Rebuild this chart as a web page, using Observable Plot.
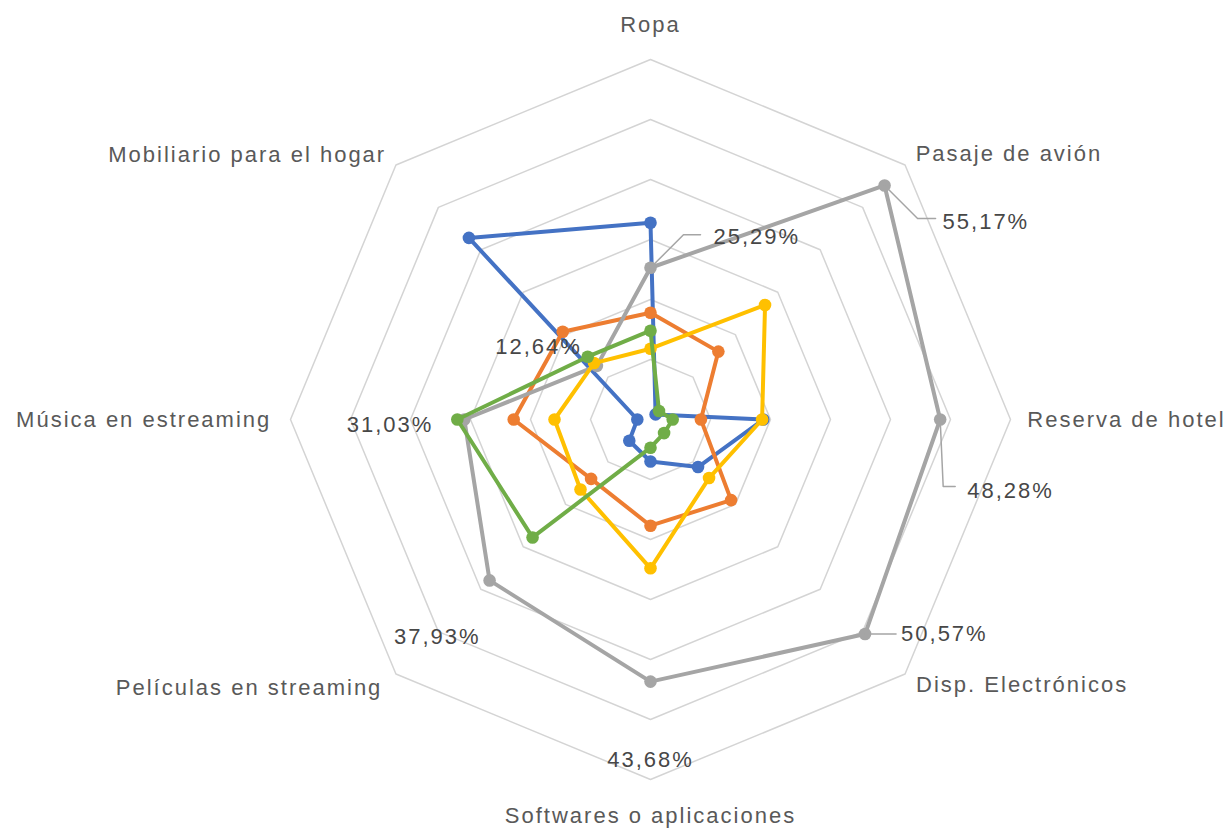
<!DOCTYPE html>
<html><head><meta charset="utf-8">
<script src="https://cdn.jsdelivr.net/npm/d3@7"></script>
<script src="https://cdn.jsdelivr.net/npm/@observablehq/plot@0.6"></script>
<style>
body{margin:0;background:#fff;overflow:hidden}
svg{display:block}
svg text{letter-spacing:2px}
</style>
</head><body><div id="chart"></div>
<script>
// ---- data ----
const categories = ["Ropa", "Pasaje de avión", "Reserva de hotel", "Disp. Electrónicos",
  "Softwares o aplicaciones", "Películas en streaming", "Música en estreaming", "Mobiliario para el hogar"];
const seriesNames = ["Serie 1", "Serie 2", "Serie 3", "Serie 4", "Serie 5"];
const serie1 = [32.8, 1.2, 18.8, 11.2, 7.0, 5.0, 2.2, 42.8];      // azul
const serie2 = [17.8, 16.0, 8.4, 19.0, 17.7, 14.0, 22.8, 20.7];   // naranja
const serie3 = [25.29, 55.17, 48.28, 50.57, 43.68, 37.93, 31.03, 12.64]; // gris
const serie4 = [11.8, 27.0, 18.6, 13.8, 24.8, 16.5, 16.0, 13.3];  // amarillo
const serie5 = [14.8, 2.0, 3.7, 3.2, 4.7, 27.8, 32.2, 14.8];      // verde
const gridValues = [10, 20, 30, 40, 50, 60];
const labeledSeries = 2; // serie3 carries the data labels

// ---- styles / layout ----
const seriesColors = ["#4472C4", "#ED7D31", "#A5A5A5", "#FFC000", "#70AD47"];
const W = 1230, H = 835, cx = 650, cy = 419, k = 6; // px per unit
const catLabelR = [65.8, 62.5, 62.8, 62.6, 66.0, 63.2, 63.2, 62.3];
const catAnchor = ["middle", "start", "start", "start", "middle", "end", "end", "end"];
// data label offsets (px) from point: text anchor pos, leader polyline
const dlLayout = [
  {dx: 63, dy: -31, anchor: "start", leader: [[0, 0], [33, -33], [50, -33]]},
  {dx: 58, dy: 37, anchor: "start", leader: [[0, 0], [33, 33], [51, 33]]},
  {dx: 27, dy: 71, anchor: "start", leader: [[0, 0], [3, 67], [15, 67]]},
  {dx: 36, dy: 0, anchor: "start", leader: [[0, 0], [31, 0]]},
  {dx: 0, dy: 78, anchor: "middle", leader: null},
  {dx: -9, dy: 57, anchor: "end", leader: null},
  {dx: -31, dy: 5, anchor: "end", leader: null},
  {dx: -15, dy: -19, anchor: "end", leader: null}
];

const allSeries = [serie1, serie2, serie3, serie4, serie5];
const n = categories.length;
const ang = i => i * 2 * Math.PI / n;
const px = (r, i) => r * Math.sin(ang(i));
const py = (r, i) => r * Math.cos(ang(i));

const gridData = gridValues.flatMap(v => categories.map((c, i) => ({ring: v, x: px(v, i), y: py(v, i)})));
const catData = categories.map((c, i) => ({text: c, x: px(catLabelR[i], i), y: py(catLabelR[i], i), anchor: catAnchor[i]}));

const fmt = v => v.toFixed(2).replace(".", ",") + "%";
const lab = allSeries[labeledSeries];
const dlData = lab.map((v, i) => ({
  text: fmt(v), x: px(v, i) + dlLayout[i].dx / k, y: py(v, i) - dlLayout[i].dy / k, anchor: dlLayout[i].anchor
}));
const leaderData = lab.flatMap((v, i) => dlLayout[i].leader ? dlLayout[i].leader.map(([ox, oy]) => ({
  id: i, x: px(v, i) + ox / k, y: py(v, i) - oy / k
})) : []);

const seriesMarks = allSeries.flatMap((s, si) => {
  const pts = s.map((v, i) => ({serie: seriesNames[si], cat: categories[i], x: px(v, i), y: py(v, i)}));
  return [
    Plot.line(pts, {x: "x", y: "y", curve: "linear-closed", stroke: seriesColors[si], strokeWidth: 4, strokeLinejoin: "round"}),
    Plot.dot(pts, {x: "x", y: "y", r: 6.3, fill: seriesColors[si], stroke: "none"})
  ];
});

const textMarks = (data, opts) => ["start", "middle", "end"].map(a =>
  Plot.text(data.filter(d => d.anchor === a), {x: "x", y: "y", text: "text", textAnchor: a, ...opts}));

const chart = Plot.plot({
  width: W, height: H, margin: 0,
  x: {domain: [-cx / k, (W - cx) / k], axis: null},
  y: {domain: [-(H - cy) / k, cy / k], axis: null},
  style: {fontFamily: "'Liberation Sans', Arial, sans-serif", background: "#fff"},
  marks: [
    Plot.line(gridData, {x: "x", y: "y", z: "ring", curve: "linear-closed", stroke: "#d4d4d4", strokeWidth: 1.5}),
    ...seriesMarks,
    Plot.line(leaderData, {x: "x", y: "y", z: "id", stroke: "#a5a5a5", strokeWidth: 1.5}),
    ...textMarks(catData, {fontSize: 22, fill: "#595959"}),
    ...textMarks(dlData, {fontSize: 22, fill: "#474747"})
  ]
});
document.getElementById("chart").appendChild(chart);
</script>
</body></html>
